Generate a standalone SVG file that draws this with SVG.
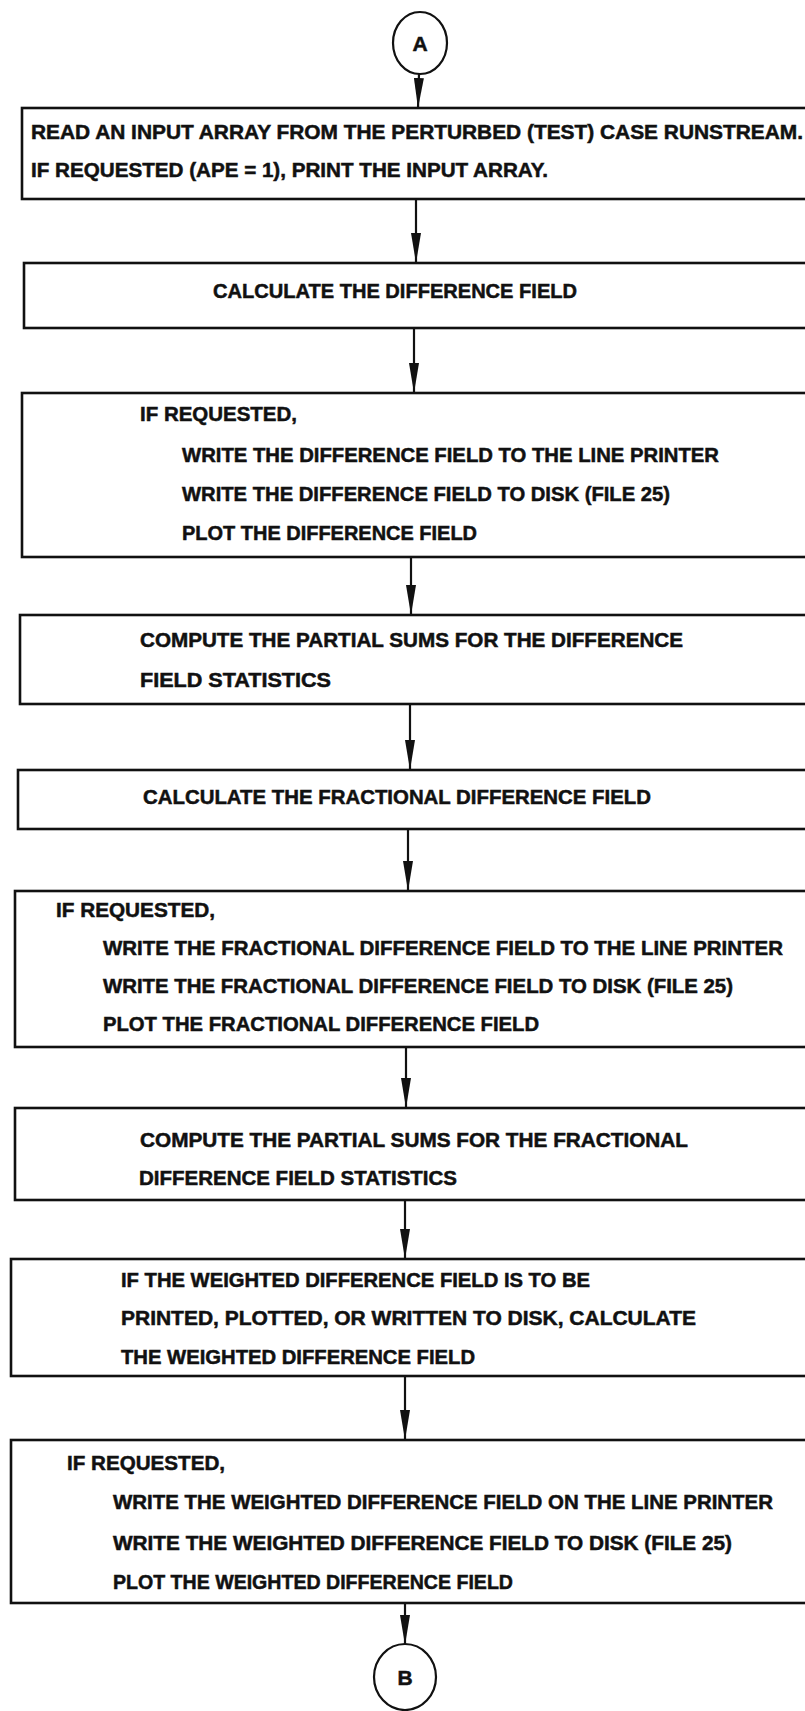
<svg xmlns="http://www.w3.org/2000/svg" width="805" height="1711" viewBox="0 0 805 1711">
<style>
.box{fill:none;stroke:#111;stroke-width:2.6}
.circ{fill:none;stroke:#111;stroke-width:2.2}
.t{font-family:"Liberation Sans",Arial,sans-serif;font-weight:bold;font-size:20px;fill:#111;stroke:#111;stroke-width:0.5}
.lbl{font-family:"Liberation Sans",Arial,sans-serif;font-weight:bold;font-size:21px;fill:#111;stroke:#111;stroke-width:0.5;text-anchor:middle}
.conn line{stroke:#111;stroke-width:2.2}
</style>
<defs>
<marker id="ah" viewBox="0 0 30 10" markerWidth="30" markerHeight="10" refX="30" refY="5" orient="auto" markerUnits="userSpaceOnUse">
<path d="M0,0 L30,5 L0,10 Z" fill="#111"/>
</marker>
</defs>
<rect width="805" height="1711" fill="#fff"/>
<g id="connectors" class="conn">
<line x1="419" y1="74" x2="418" y2="108" marker-end="url(#ah)"/>
<line x1="416" y1="199" x2="416" y2="263" marker-end="url(#ah)"/>
<line x1="414" y1="328" x2="414" y2="393" marker-end="url(#ah)"/>
<line x1="411" y1="557" x2="411" y2="615" marker-end="url(#ah)"/>
<line x1="410" y1="704" x2="410" y2="770" marker-end="url(#ah)"/>
<line x1="408" y1="829" x2="408" y2="891" marker-end="url(#ah)"/>
<line x1="406" y1="1047" x2="406" y2="1108" marker-end="url(#ah)"/>
<line x1="405" y1="1200" x2="405" y2="1259" marker-end="url(#ah)"/>
<line x1="405" y1="1376" x2="405" y2="1440" marker-end="url(#ah)"/>
<line x1="405" y1="1603" x2="405" y2="1645" marker-end="url(#ah)"/>
</g>
<g id="nodeA">
<ellipse class="circ" cx="420" cy="43" rx="27" ry="31"/>
<text class="lbl" x="420" y="51">A</text>
</g>
<g id="n1">
<rect class="box" x="22" y="108" width="808" height="91"/>
<text class="t" x="31" y="139" textLength="772" lengthAdjust="spacingAndGlyphs">READ AN INPUT ARRAY FROM THE PERTURBED (TEST) CASE RUNSTREAM.</text>
<text class="t" x="31" y="177" textLength="517" lengthAdjust="spacingAndGlyphs">IF REQUESTED (APE = 1), PRINT THE INPUT ARRAY.</text>
</g>
<g id="n2">
<rect class="box" x="24" y="263" width="806" height="65"/>
<text class="t" x="213" y="298" textLength="364" lengthAdjust="spacingAndGlyphs">CALCULATE THE DIFFERENCE FIELD</text>
</g>
<g id="n3">
<rect class="box" x="22" y="393" width="808" height="164"/>
<text class="t" x="140" y="421" textLength="157" lengthAdjust="spacingAndGlyphs">IF REQUESTED,</text>
<text class="t" x="182" y="462" textLength="537" lengthAdjust="spacingAndGlyphs">WRITE THE DIFFERENCE FIELD TO THE LINE PRINTER</text>
<text class="t" x="182" y="501" textLength="488" lengthAdjust="spacingAndGlyphs">WRITE THE DIFFERENCE FIELD TO DISK (FILE 25)</text>
<text class="t" x="182" y="540" textLength="295" lengthAdjust="spacingAndGlyphs">PLOT THE DIFFERENCE FIELD</text>
</g>
<g id="n4">
<rect class="box" x="20" y="615" width="810" height="89"/>
<text class="t" x="140" y="647" textLength="543" lengthAdjust="spacingAndGlyphs">COMPUTE THE PARTIAL SUMS FOR THE DIFFERENCE</text>
<text class="t" x="140" y="687" textLength="191" lengthAdjust="spacingAndGlyphs">FIELD STATISTICS</text>
</g>
<g id="n5">
<rect class="box" x="18" y="770" width="812" height="59"/>
<text class="t" x="143" y="804" textLength="508" lengthAdjust="spacingAndGlyphs">CALCULATE THE FRACTIONAL DIFFERENCE FIELD</text>
</g>
<g id="n6">
<rect class="box" x="15" y="891" width="815" height="156"/>
<text class="t" x="56" y="917" textLength="159" lengthAdjust="spacingAndGlyphs">IF REQUESTED,</text>
<text class="t" x="103" y="955" textLength="680" lengthAdjust="spacingAndGlyphs">WRITE THE FRACTIONAL DIFFERENCE FIELD TO THE LINE PRINTER</text>
<text class="t" x="103" y="993" textLength="630" lengthAdjust="spacingAndGlyphs">WRITE THE FRACTIONAL DIFFERENCE FIELD TO DISK (FILE 25)</text>
<text class="t" x="103" y="1031" textLength="436" lengthAdjust="spacingAndGlyphs">PLOT THE FRACTIONAL DIFFERENCE FIELD</text>
</g>
<g id="n7">
<rect class="box" x="15" y="1108" width="815" height="92"/>
<text class="t" x="140" y="1147" textLength="548" lengthAdjust="spacingAndGlyphs">COMPUTE THE PARTIAL SUMS FOR THE FRACTIONAL</text>
<text class="t" x="139" y="1185" textLength="318" lengthAdjust="spacingAndGlyphs">DIFFERENCE FIELD STATISTICS</text>
</g>
<g id="n8">
<rect class="box" x="11" y="1259" width="819" height="117"/>
<text class="t" x="121" y="1287" textLength="469" lengthAdjust="spacingAndGlyphs">IF THE WEIGHTED DIFFERENCE FIELD IS TO BE</text>
<text class="t" x="121" y="1325" textLength="575" lengthAdjust="spacingAndGlyphs">PRINTED, PLOTTED, OR WRITTEN TO DISK, CALCULATE</text>
<text class="t" x="121" y="1364" textLength="354" lengthAdjust="spacingAndGlyphs">THE WEIGHTED DIFFERENCE FIELD</text>
</g>
<g id="n9">
<rect class="box" x="11" y="1440" width="819" height="163"/>
<text class="t" x="67" y="1470" textLength="158" lengthAdjust="spacingAndGlyphs">IF REQUESTED,</text>
<text class="t" x="113" y="1509" textLength="660" lengthAdjust="spacingAndGlyphs">WRITE THE WEIGHTED DIFFERENCE FIELD ON THE LINE PRINTER</text>
<text class="t" x="113" y="1550" textLength="619" lengthAdjust="spacingAndGlyphs">WRITE THE WEIGHTED DIFFERENCE FIELD TO DISK (FILE 25)</text>
<text class="t" x="113" y="1589" textLength="400" lengthAdjust="spacingAndGlyphs">PLOT THE WEIGHTED DIFFERENCE FIELD</text>
</g>
<g id="nodeB">
<ellipse class="circ" cx="405" cy="1677" rx="31" ry="33"/>
<text class="lbl" x="405" y="1685">B</text>
</g>
</svg>
